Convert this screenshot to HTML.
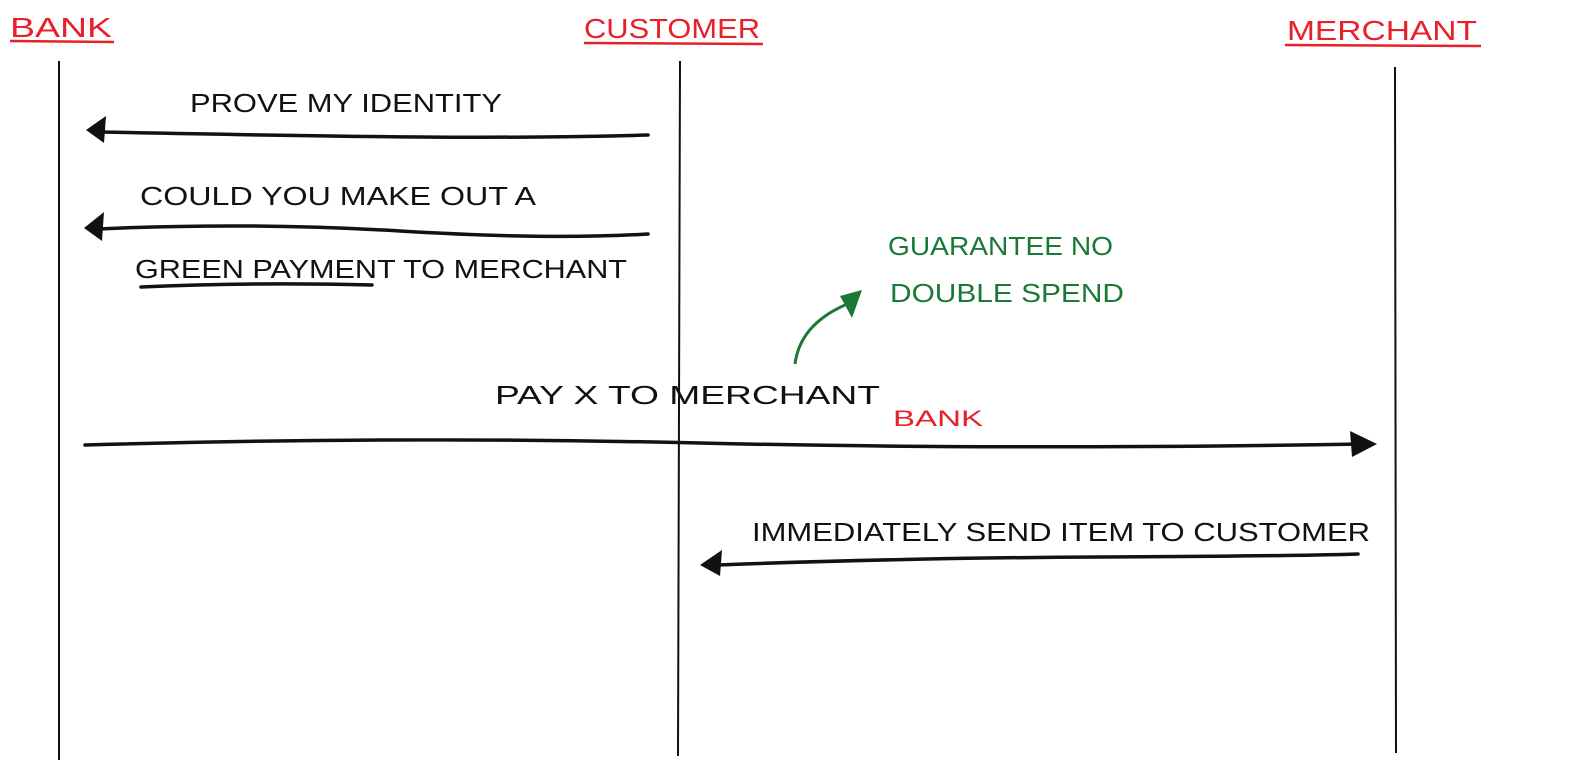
<!DOCTYPE html>
<html><head><meta charset="utf-8"><style>
html,body{margin:0;padding:0;background:#fff;}
svg{display:block}
text{font-family:"Liberation Sans",sans-serif;text-transform:uppercase;}
</style></head><body>
<svg width="1577" height="772" viewBox="0 0 1577 772" xmlns="http://www.w3.org/2000/svg">
<g fill="#e8202a" font-size="28">
<text x="10" y="37" textLength="102" lengthAdjust="spacingAndGlyphs">BANK</text>
<text x="584" y="38" textLength="176" lengthAdjust="spacingAndGlyphs">CUSTOMER</text>
<text x="1287" y="40" textLength="190" lengthAdjust="spacingAndGlyphs">MERCHANT</text>
<text x="893" y="426" font-size="22" textLength="90" lengthAdjust="spacingAndGlyphs">BANK</text>
</g>
<g stroke="#e8202a" stroke-width="2.5" fill="none">
<path d="M10 41 L114 42"/><path d="M584 43 L763 44"/><path d="M1285 45 L1481 46"/>
</g>
<g stroke="#111" stroke-width="2" fill="none">
<path d="M59 61 L59 760"/><path d="M680 61 L678 756"/><path d="M1395 67 L1396 753"/>
</g>
<g stroke="#111" stroke-width="3.5" fill="none" stroke-linecap="round">
<path d="M100 132 Q300 136 420 137 T648 135"/>
<path d="M98 229 Q250 222 400 231 T648 234"/>
<path d="M141 287 Q250 282 372 285"/>
<path d="M85 445 Q400 436 700 443 T1362 444"/>
<path d="M718 565 Q900 558 1100 557 T1358 554"/>
</g>
<g fill="#111">
<path d="M86 130 L106 116 L104 143 Z"/>
<path d="M84 228 L104 212 L102 241 Z"/>
<path d="M1377 444 L1350 431 L1352 457 Z"/>
<path d="M700 565 L722 550 L720 576 Z"/>
</g>
<g fill="#111" font-size="26">
<text x="190" y="112" textLength="312" lengthAdjust="spacingAndGlyphs">PROVE MY IDENTITY</text>
<text x="140" y="205" textLength="396" lengthAdjust="spacingAndGlyphs">COULD YOU MAKE OUT A</text>
<text x="135" y="278" textLength="492" lengthAdjust="spacingAndGlyphs">GREEN PAYMENT TO MERCHANT</text>
<text x="495" y="404" textLength="385" lengthAdjust="spacingAndGlyphs">PAY X TO MERCHANT</text>
<text x="752" y="541" textLength="618" lengthAdjust="spacingAndGlyphs">IMMEDIATELY SEND ITEM TO CUSTOMER</text>
</g>
<g fill="#1a7a35" font-size="26">
<text x="888" y="255" textLength="225" lengthAdjust="spacingAndGlyphs">GUARANTEE NO</text>
<text x="890" y="302" textLength="234" lengthAdjust="spacingAndGlyphs">DOUBLE SPEND</text>
</g>
<path d="M795 364 Q800 325 845 305" stroke="#1a7a35" stroke-width="3" fill="none"/>
<path d="M862 290 L840 296 L852 318 Z" fill="#1a7a35"/>
</svg>
</body></html>
